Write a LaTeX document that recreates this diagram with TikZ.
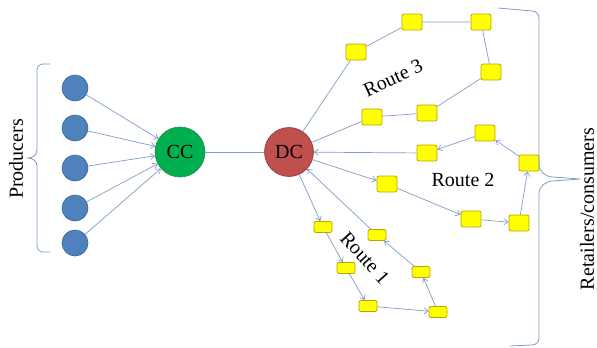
\documentclass[tikz,border=0pt]{standalone}
\usepackage{fontspec}
\setmainfont{Liberation Serif}
\usetikzlibrary{arrows.meta}
\definecolor{lnk}{HTML}{7F9DC8}
\definecolor{prodfill}{HTML}{4F81BD}
\definecolor{prodline}{HTML}{3A6496}
\definecolor{ccfill}{HTML}{00B050}
\definecolor{ccline}{HTML}{1E8C46}
\definecolor{dcfill}{HTML}{C0504D}
\definecolor{dcline}{HTML}{8C3836}
\definecolor{boxfill}{HTML}{FFFF00}
\definecolor{boxline}{HTML}{B8A200}
\tikzset{
  big/.style={font=\fontsize{20}{24}\selectfont},
  prod/.style={circle, fill=prodfill, draw=prodline, line width=0.6pt, minimum size=26pt, inner sep=0pt},
  hub/.style={circle, line width=0.6pt, minimum size=50pt, inner sep=0pt, big},
  boxA/.style={rectangle, rounded corners=2pt, fill=boxfill, draw=boxline, line width=0.8pt, minimum width=20pt, minimum height=16pt, inner sep=0pt},
  boxB/.style={rectangle, rounded corners=2pt, fill=boxfill, draw=boxline, line width=0.8pt, minimum width=18pt, minimum height=11pt, inner sep=0pt},
  con/.style={draw=lnk, line width=0.7pt},
  arr/.style={con, -{Straight Barb[length=4pt,width=6pt]}},
  brace/.style={draw=lnk, line width=0.8pt},
}
\begin{document}
\begin{tikzpicture}[x=1pt,y=-1pt]
\useasboundingbox (0,0) rectangle (597,348);
% producers
\node[prod] (p1) at (75,88) {};
\node[prod] (p2) at (75,128) {};
\node[prod] (p3) at (75,168) {};
\node[prod] (p4) at (75,208) {};
\node[prod] (p5) at (75,243) {};
\node[hub, fill=ccfill, draw=ccline] (cc) at (180,152) {CC};
\node[hub, fill=dcfill, draw=dcline, minimum size=49pt] (dc) at (289,152) {DC};
\foreach \i in {1,...,5} \draw[arr] (p\i) -- (cc);
\draw[con] (cc) -- (dc);
% route 3
\node[boxA] (a) at (356,52) {};
\node[boxA] (b) at (412,22) {};
\node[boxA] (c) at (481,22) {};
\node[boxA] (d) at (491,72) {};
\node[boxA] (e) at (427,113) {};
\node[boxA] (f) at (372,117) {};
\draw[con] (dc) -- (a) -- (b) -- (c) -- (d) -- (e) -- (f) -- (dc);
% route 2
\node[boxA] (g) at (485,133) {};
\node[boxA] (h) at (427,153) {};
\node[boxA] (i) at (529,163) {};
\node[boxA] (j) at (387,184) {};
\node[boxA] (k) at (471,219) {};
\node[boxA] (l) at (519,223) {};
\draw[arr] (dc) -- (j);
\draw[arr] (j) -- (k);
\draw[arr] (k) -- (l);
\draw[arr] (l) -- (i);
\draw[arr] (i) -- (g);
\draw[arr] (g) -- (h);
\draw[arr] (h) -- (dc);
% route 1
\node[boxB] (m) at (323,227) {};
\node[boxB] (n) at (346,268) {};
\node[boxB] (o) at (368,306) {};
\node[boxB] (pp) at (438,312) {};
\node[boxB] (q) at (421,272) {};
\node[boxB] (r) at (377,235) {};
\draw[arr] (dc) -- (m);
\draw[arr] (m) -- (n);
\draw[arr] (n) -- (o);
\draw[arr] (o) -- (pp);
\draw[arr] (pp) -- (q);
\draw[arr] (q) -- (r);
\draw[arr] (r) -- (dc);
% labels
\node[big, rotate=25] (t3) at (393,78) {Route 3};
\node[big] (t2) at (463,180) {Route 2};
\node[big, rotate=-48] (t1) at (365,258) {Route 1};
\node[big, rotate=90] (tp) at (16,159) {Producers};
\node[big, rotate=90] (tr) at (587,209) {Retailers/consumers};
% left brace
\draw[brace] (50,64) -- (43,64) to[out=180,in=90] (37,70) -- (37,150)
  to[out=-90,in=0] (28,158) to[out=0,in=90] (37,166) -- (37,246)
  to[out=-90,in=180] (43,252) -- (50,252);
% right brace
\draw[brace] (498,8) -- (532,11) to[out=0,in=90] (539,18) -- (539,164)
  to[out=-90,in=180] (553,177) -- (580,179) -- (553,181)
  to[out=180,in=90] (539,194) -- (539,338)
  to[out=-90,in=0] (532,345) -- (510,346);
\end{tikzpicture}
\end{document}
